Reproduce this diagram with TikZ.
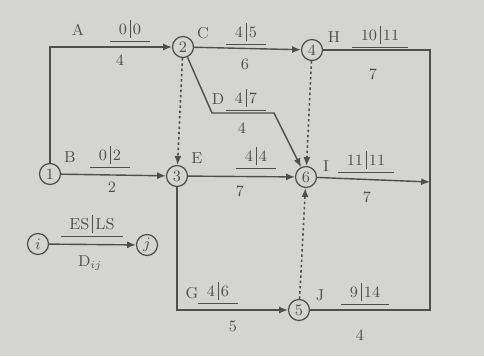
\documentclass[tikz,border=0pt]{standalone}
\usepackage{tikz}
\usetikzlibrary{positioning,arrows.meta}
\definecolor{paper}{RGB}{212,212,210}
\definecolor{ink}{RGB}{78,78,78}
\newcommand{\eslf}[2]{\underline{\hspace{5pt}#1\,\vrule depth 2.5pt height 8pt\,#2\hspace{5pt}}}

\begin{document}
\begin{tikzpicture}[x=0.02cm, y=-0.02cm, font=\small, color=ink,
    ev/.style={circle, draw=ink, fill=paper, minimum size=0.42cm, inner sep=0pt, line width=0.7pt},
    act/.style={draw=ink, line width=0.8pt, -{Latex[length=5pt,width=4pt]}},
    dum/.style={draw=ink, line width=0.9pt, dash pattern=on 1.4pt off 1.6pt, -{Latex[length=5pt,width=4pt]}},
    lab/.style={inner sep=1pt, text=ink}]
    \fill[paper] (0,0) rectangle (484,356);

    % events
    \node[ev] (n1) at (50,174) {1};
    \node[ev] (n2) at (183,47) {2};
    \node[ev] (n3) at (177,176) {3};
    \node[ev] (n4) at (312,50) {4};
    \node[ev] (n5) at (299,310) {5};
    \node[ev] (n6) at (306,177) {6};
    \coordinate (fin) at (430,182);
    \coordinate (d1) at (212,113);
    \coordinate (d2) at (274,113);

    % activities
    \draw[act] (n1) |- (n2);
    \draw[act] (n1) -- (n3);
    \draw[act] (n2) -- (n4);
    \draw[act] (n2) -- (d1) -- (d2) -- (n6);
    \draw[dum] (n2) -- (n3);
    \draw[act] (n3) -- (n6);
    \draw[act] (n3) |- (n5);
    \draw[dum] (n4) -- (n6);
    \draw[dum] (n5) -- (n6);
    \draw[act] (n6) -- (fin);
    \draw[line width=0.8pt] (n4) -| (fin);
    \draw[line width=0.8pt] (n5) -| (fin);

    % labels
    \node[lab] (lA) at (78,30) {A};
    \node[lab] (tA) at (130,31) {\eslf{0}{0}};
    \node[lab] (dA) at (120,60) {4};
    \node[lab] (lB) at (70,157) {B};
    \node[lab] (tB) at (110,157) {\eslf{0}{2}};
    \node[lab] (dB) at (112,187) {2};
    \node[lab] (lC) at (203,33) {C};
    \node[lab] (tC) at (246,34) {\eslf{4}{5}};
    \node[lab] (dC) at (245,64) {6};
    \node[lab] (lD) at (218,99) {D};
    \node[lab] (tD) at (246,100) {\eslf{4}{7}};
    \node[lab] (dD) at (242,128) {4};
    \node[lab] (lE) at (197,158) {E};
    \node[lab] (tE) at (256,158) {\eslf{4}{4}};
    \node[lab] (dE) at (240,191) {7};
    \node[lab] (lG) at (192,293) {G};
    \node[lab] (tG) at (218,293) {\eslf{4}{6}};
    \node[lab] (dG) at (233,326) {5};
    \node[lab] (lH) at (334,37) {H};
    \node[lab] (tH) at (380,37) {\eslf{10}{11}};
    \node[lab] (dH) at (373,74) {7};
    \node[lab] (lI) at (326,166) {I};
    \node[lab] (tI) at (366,162) {\eslf{11}{11}};
    \node[lab] (dI) at (367,197) {7};
    \node[lab] (lJ) at (320,295) {J};
    \node[lab] (tJ) at (365,294) {\eslf{9}{14}};
    \node[lab] (dJ) at (360,335) {4};

    % legend
    \node[ev] (li) at (38,244) {$i$};
    \node[ev] (lj) at (147,245) {$j$};
    \draw[act] (li) -- (lj);
    \node[lab] (tL) at (92,226) {\eslf{ES}{LS}};
    \node[lab] (dL) at (90,263) {D$_{ij}$};
\end{tikzpicture}
\end{document}
